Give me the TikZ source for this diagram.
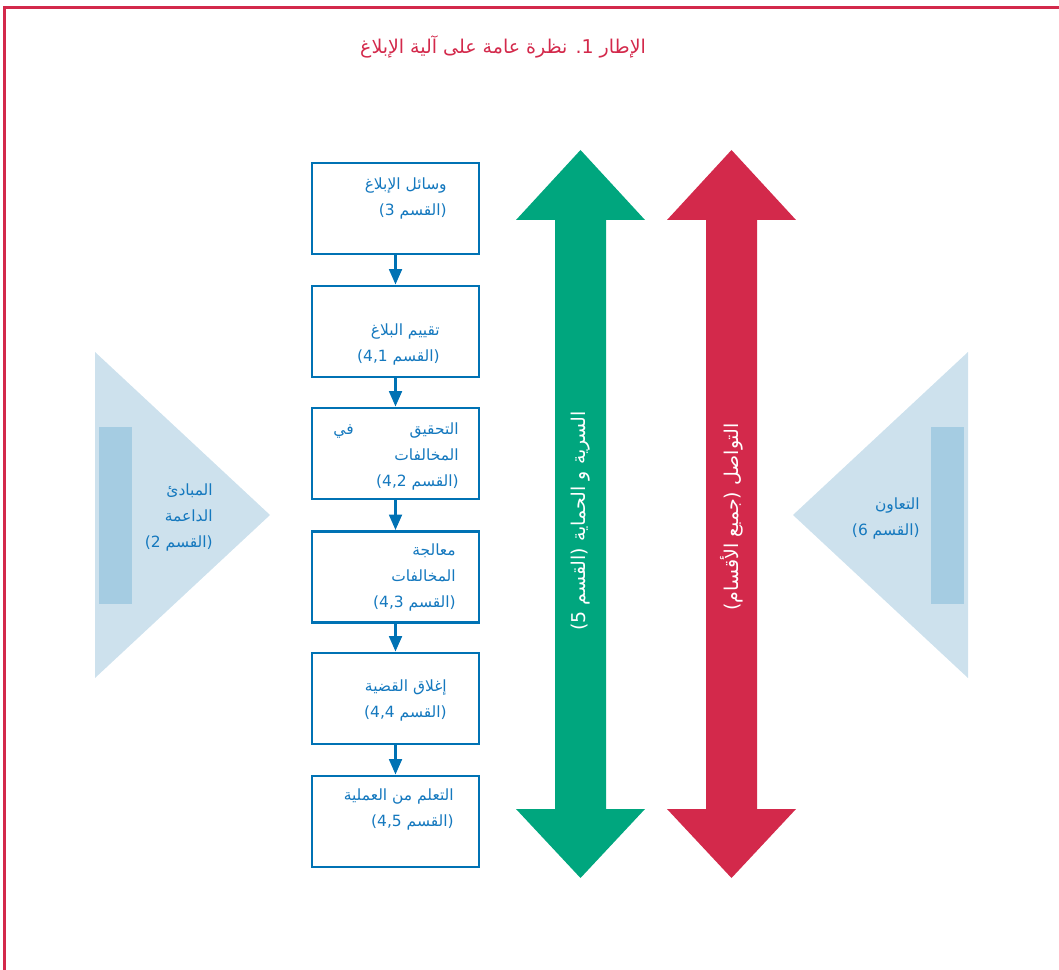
\documentclass[tikz,border=0pt]{standalone}
\usepackage{fontspec}
\newfontfamily\arabicfont[Script=Arabic]{DejaVu Sans}
\TeXXeTstate=1
\usetikzlibrary{arrows.meta, positioning}

\definecolor{frameRed}{RGB}{211,41,75}
\definecolor{boxBlue}{RGB}{0,114,180}
\definecolor{textBlue}{RGB}{20,120,190}
\definecolor{paleBlue}{RGB}{205,225,237}
\definecolor{barBlue}{RGB}{165,204,226}
\definecolor{bandGreen}{RGB}{0,166,126}

\newcommand{\rl}[1]{\beginR #1\endR}

\begin{document}
\begin{tikzpicture}[x=0.025cm, y=-0.025cm,
    box/.style={draw=boxBlue, line width=2pt, minimum width=4.175cm, minimum height=2.275cm, inner sep=0pt},
    boxtext/.style={font=\arabicfont\fontsize{11}{18.5}\selectfont, text=textBlue, align=right, anchor=east, inner sep=0pt},
    flow/.style={draw=boxBlue, line width=2pt, -{Triangle[width=9pt,length=11pt]}},
    bandtext/.style={font=\arabicfont\fontsize{13.5}{15}\selectfont, text=white, rotate=90, inner sep=0pt}]
  \useasboundingbox (0,0) rectangle (1059,970);

  % Frame
  \draw[frameRed, line width=1.6pt] (4.5,970) -- (4.5,7.5) -- (1059,7.5);
  \node[font=\arabicfont\fontsize{13.5}{15}\selectfont, text=frameRed] (title) at (503,47)
    {\rl{الإطار 1. نظرة عامة على آلية الإبلاغ}};

  % Side triangles
  \fill[paleBlue] (95,352) -- (270,515) -- (95,678) -- cycle;
  \fill[barBlue] (99,427) rectangle (132,604);
  \fill[paleBlue] (968,352) -- (793,515) -- (968,678) -- cycle;
  \fill[barBlue] (931,427) rectangle (964,604);

  \node[boxtext] (principles) at (213,517)
    {\rl{المبادئ}\\ \rl{الداعمة}\\ \rl{(القسم 2)}};
  \node[boxtext] (coop) at (920,518)
    {\rl{التعاون}\\ \rl{(القسم 6)}};

  % Process boxes
  \foreach \n/\y in {1/208.5,2/331.5,3/453.5,4/577,5/698.5,6/821.5}
    \node[box] (b\n) at (395.5,\y) {};
  \foreach \a/\b in {1/2,2/3,3/4,4/5,5/6}
    \draw[flow] (b\a.south) -- (b\b.north);

  \node[boxtext] (t1) at (447,198) {\rl{وسائل الإبلاغ}\\ \rl{(القسم 3)}};
  \node[boxtext] (t2) at (440,344) {\rl{تقييم البلاغ}\\ \rl{(القسم \beginL 4,1\endL)}};
  \node[boxtext] (t3) at (459,456) {\rl{التحقيق\hspace{1.4cm}في}\\ \rl{المخالفات}\\ \rl{(القسم \beginL 4,2\endL)}};
  \node[boxtext] (t4) at (456,577) {\rl{معالجة}\\ \rl{المخالفات}\\ \rl{(القسم \beginL 4,3\endL)}};
  \node[boxtext] (t5) at (447,700) {\rl{إغلاق القضية}\\ \rl{(القسم \beginL 4,4\endL)}};
  \node[boxtext] (t6) at (454,809) {\rl{التعلم من العملية}\\ \rl{(القسم \beginL 4,5\endL)}};

  % Double arrows
  \fill[bandGreen] (580.5,150) -- (645,220) -- (606,220) -- (606,809) -- (645,809)
    -- (580.5,878) -- (516,809) -- (555,809) -- (555,220) -- (516,220) -- cycle;
  \fill[frameRed] (731.5,150) -- (796,220) -- (757,220) -- (757,809) -- (796,809)
    -- (731.5,878) -- (667,809) -- (706,809) -- (706,220) -- (667,220) -- cycle;
  \node[bandtext] (privacy) at (580.5,521) {\rl{السرية و الحماية (القسم 5)}};
  \node[bandtext] (comms) at (731.5,517) {\rl{التواصل (جميع الأقسام)}};
\end{tikzpicture}
\end{document}
